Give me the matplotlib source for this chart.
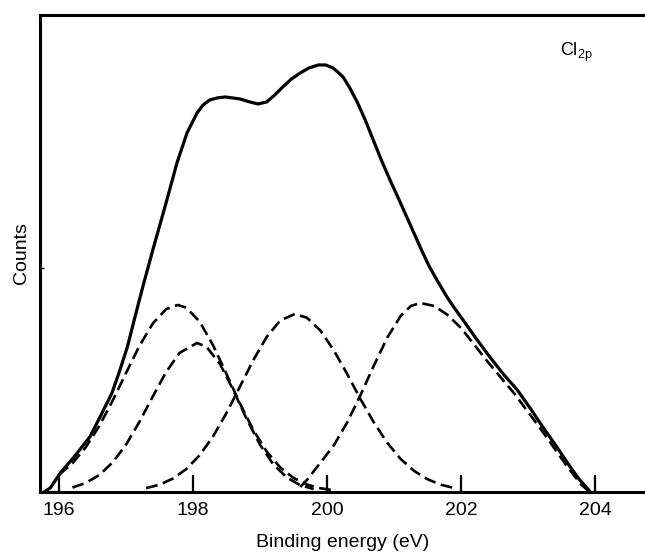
import matplotlib
matplotlib.use("Agg")
import matplotlib.pyplot as plt

plt.rcParams['font.family'] = ['Liberation Sans', 'DejaVu Sans']
plt.rcParams['mathtext.fontset'] = 'custom'
plt.rcParams['mathtext.rm'] = 'Liberation Sans'
plt.rcParams['lines.scale_dashes'] = False

# Measured envelope (solid line): binding energy (eV), counts (arb.)
env_x = [195.78, 195.87, 196.02, 196.20, 196.46, 196.62, 196.79, 196.90, 197.02, 197.13,
         197.25, 197.40, 197.61, 197.76, 197.91, 198.06, 198.15, 198.25, 198.36, 198.48,
         198.70, 198.85, 198.97, 199.10, 199.22, 199.34, 199.47, 199.60, 199.73, 199.87,
         199.98, 200.09, 200.16, 200.24, 200.34, 200.45, 200.57, 200.69, 200.81, 200.94,
         201.07, 201.19, 201.31, 201.43, 201.53, 201.64, 201.79, 201.90, 202.03, 202.23,
         202.43, 202.63, 202.84, 203.03, 203.22, 203.43, 203.63, 203.76, 203.88, 203.93]
env_y = [0, 4, 19, 33, 55, 76, 99, 120, 145, 174,
         205, 242, 292, 329, 359, 379, 387, 392, 394, 395,
         393, 390, 388, 390, 397, 405, 413, 419, 424, 427,
         427, 424, 420, 415, 404, 390, 372, 352, 332, 312,
         293, 275, 257, 239, 225, 212, 195, 184, 172, 153,
         135, 118, 102, 84, 65, 45, 25, 13, 4, 0]

# Fitted component peaks (dashed lines)
c1_x = [196.0, 196.2, 196.4, 196.6, 196.8, 197.0, 197.2, 197.4, 197.6, 197.77,
        197.9, 198.1, 198.3, 198.5, 198.7, 198.9, 199.1, 199.3, 199.5, 199.7, 199.9, 200.1]
c1_y = [17.2, 28.6, 44.8, 65.9, 91.3, 119.0, 146.0, 168.5, 182.9, 187.0,
        184.3, 170.2, 146.6, 117.9, 88.5, 61.9, 40.4, 24.6, 14.0, 7.4, 3.7, 1.7]

c2_x = [196.2, 196.4, 196.6, 196.8, 197.0, 197.2, 197.4, 197.6, 197.8, 198.06,
        198.2, 198.4, 198.6, 198.8, 199.0, 199.2, 199.4, 199.6, 199.8]
c2_y = [4.4, 9.0, 16.9, 29.5, 47.3, 70.1, 95.5, 120.1, 139.1, 149.0,
        145.2, 128.2, 102.0, 73.1, 47.2, 27.5, 14.4, 6.8, 2.9]

c3_x = [197.3, 197.5, 197.7, 197.9, 198.1, 198.3, 198.5, 198.7, 198.9, 199.1, 199.3, 199.52,
        199.7, 199.9, 200.1, 200.3, 200.5, 200.7, 200.9, 201.1, 201.3, 201.5, 201.7, 201.9]
c3_y = [3.8, 7.3, 13.4, 22.9, 36.8, 55.6, 79.0, 105.3, 131.8, 155.1, 171.4, 178.0,
        174.2, 161.5, 141.8, 118.0, 92.9, 69.4, 49.1, 32.9, 21.0, 12.7, 7.2, 3.9]

c4_x = [199.6, 199.7, 199.9, 200.1, 200.3, 200.5, 200.7, 200.9, 201.1, 201.25, 201.39,
        201.6, 201.8, 202.0, 202.2, 202.4, 202.6, 202.8, 203.0, 203.2, 203.4, 203.6, 203.8, 203.92]
c4_y = [5.0, 12.0, 29.1, 46.4, 69.4, 96.9, 126.5, 154.4, 176.1, 185.9, 189.0,
        186.0, 177.0, 164.0, 147.0, 130.0, 114.0, 98.0, 80.0, 62.0, 43.0, 24.0, 7.0, 0.0]

xticks = [196, 198, 200, 202, 204]

fig = plt.figure(figsize=(6.45, 5.54), dpi=100)
ax = fig.add_axes([0.062, 0.112, 0.938, 0.861])

ax.plot(env_x, env_y, color='black', lw=2.3, solid_capstyle='round', solid_joinstyle='round')
for xs, ys in [(c1_x, c1_y), (c2_x, c2_y), (c3_x, c3_y), (c4_x, c4_y)]:
    ax.plot(xs, ys, color='black', lw=1.9, dashes=(8.5, 4.0))

ax.set_xlim(195.716, 204.746)
ax.set_ylim(0, 477)
ax.set_xticks(xticks)
ax.set_xticklabels([str(t) for t in xticks], fontsize=14)
ax.set_yticks([224])
ax.set_yticklabels([])
ax.tick_params(axis='x', direction='in', length=12, width=1.6, pad=7)
ax.tick_params(axis='y', direction='in', length=3, width=1.0)

for s in ['left', 'bottom', 'top']:
    ax.spines[s].set_linewidth(2.2)
ax.spines['right'].set_visible(False)

ax.set_xlabel('Binding energy (eV)', fontsize=14, labelpad=11)
ax.set_ylabel('Counts', fontsize=14, labelpad=4)

ax.text(203.48, 440, r'Cl$_{\mathrm{2p}}$', fontsize=13, ha='left', va='center')

fig.savefig('out.png', dpi=100)
